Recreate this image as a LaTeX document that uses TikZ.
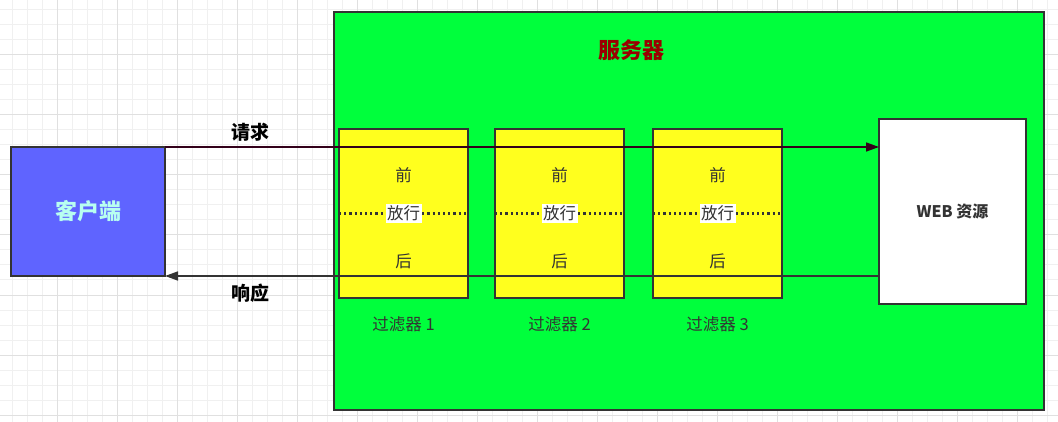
\documentclass[tikz,border=0pt]{standalone}
\usepackage{fontspec}
\setmainfont{Noto Sans CJK SC}
\usetikzlibrary{positioning,calc,arrows.meta}

\definecolor{srvgreen}{HTML}{00FF3C}
\definecolor{filtyellow}{HTML}{FFFF1E}
\definecolor{clientblue}{HTML}{5F64FF}
\definecolor{clienttext}{HTML}{B8FFF0}
\definecolor{srvred}{HTML}{990000}
\definecolor{edge}{HTML}{333333}
\definecolor{reqline}{HTML}{33001A}
\definecolor{gridminor}{HTML}{F0F0F0}
\definecolor{gridmajor}{HTML}{E0E0E0}

\begin{document}
\begin{tikzpicture}[x=1pt, y=-1pt,
    box/.style={draw=edge, line width=1.6pt, inner sep=0pt, outer sep=0pt},
    filt/.style={box, fill=filtyellow, minimum width=129pt, minimum height=169pt},
    lbl/.style={text=edge, font=\fontsize{16.5}{18}\selectfont, inner sep=1.5pt},
    bold/.style={font=\fontsize{19}{21}\selectfont\bfseries},
    dots/.style={line width=2.2pt, dash pattern=on 2.2pt off 3pt, draw=edge},
    tip/.style={-{Triangle[length=13pt, width=9pt]}}]

  \useasboundingbox (0,0) rectangle (1058,422);
  \fill[white] (0,0) rectangle (1058,422);

  % background grid
  \foreach \x in {12,27,...,1057} \draw[gridminor, line width=1pt] (\x,0) -- (\x,422);
  \foreach \y in {10,25,...,421} \draw[gridminor, line width=1pt] (0,\y) -- (1058,\y);
  \foreach \x in {57,117,...,1057} \draw[gridmajor, line width=1pt] (\x,0) -- (\x,422);
  \foreach \y in {55,115,...,421} \draw[gridmajor, line width=1pt] (0,\y) -- (1058,\y);

  % boxes
  \node[box, fill=srvgreen, minimum width=710pt, minimum height=398pt] (server) at (689,211) {};
  \node[text=srvred, font=\fontsize{22}{24}\selectfont\bfseries] (srvlbl) at (631,50) {服务器};

  \node[box, fill=clientblue, minimum width=154pt, minimum height=129pt,
        text=clienttext, font=\fontsize{22}{24}\selectfont\bfseries] (client) at (88,211.5) {客户端};

  \node[box, fill=white, minimum width=147pt, minimum height=185pt,
        text=edge, font=\fontsize{16}{18}\selectfont\bfseries] (web) at (952.5,211.5) {WEB 资源};

  \foreach \i/\x in {1/403.5, 2/559.5, 3/717.5} {
    \node[filt] (f\i) at (\x,213.5) {};
    \node[lbl] (fname\i) at (\x,324) {过滤器 \i};
  }

  % request / response
  \draw[reqline, line width=1.6pt, tip] (client.north east) -- (client.north east -| web.west);
  \draw[edge, line width=1.6pt, tip] (web.west |- client.south east) -- (client.south east);

  \node[bold] (req) at (250,132) {请求};
  \node[bold] (resp) at (250,293) {响应};

  % before / pass / after
  \foreach \i in {1,2,3} {
    \draw[dots] (f\i.west) -- (f\i.east);
    \node[lbl] (pre\i)  at ($(f\i.center)+(0,-38.5)$) {前};
    \node[lbl, fill=white] (pass\i) at (f\i.center) {放行};
    \node[lbl] (post\i) at ($(f\i.center)+(0,48)$) {后};
  }

\end{tikzpicture}
\end{document}
